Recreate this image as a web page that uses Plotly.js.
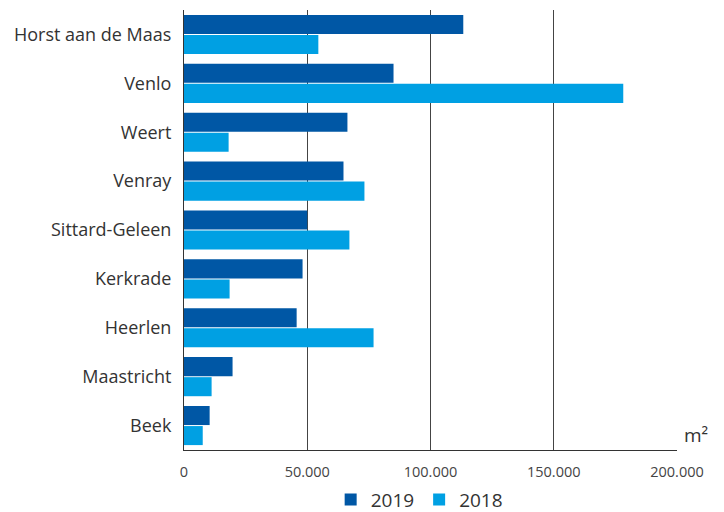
<!DOCTYPE html>
<html>
<head>
<meta charset="utf-8">
<script src="https://cdn.plot.ly/plotly-3.0.1.min.js"></script>
<style>html,body{margin:0;padding:0;background:#fff;}#chart{width:724px;height:512px;}</style>
</head>
<body>
<div id="chart"></div>
<script>
const categories = ["Horst aan de Maas","Venlo","Weert","Venray","Sittard-Geleen","Kerkrade","Heerlen","Maastricht","Beek"];
const values2019 = [113300, 85000, 66300, 64700, 50000, 48100, 45700, 19700, 10400];
const values2018 = [54500, 178200, 18100, 73200, 67100, 18500, 76900, 11200, 7600];
const tickVals = [0, 50000, 100000, 150000, 200000];
const tickLabels = ["0", "50.000", "100.000", "150.000", "200.000"];

const font = "'Open Sans', sans-serif";
const traces = [
  {type:'bar', orientation:'h', name:'2019', y:categories, x:values2019, marker:{color:'#0057A5'}, hoverinfo:'x'},
  {type:'bar', orientation:'h', name:'2018', y:categories, x:values2018, marker:{color:'#00A0E3'}, hoverinfo:'x'}
];
const layout = {
  width:724, height:512,
  margin:{l:184, r:47, t:10, b:62},
  paper_bgcolor:'#fff', plot_bgcolor:'#fff',
  barmode:'group', bargap:0.18, bargroupgap:0.05,
  separators:',.',
  font:{family:font, color:'#333'},
  xaxis:{range:[0,200000], tickvals:tickVals, ticktext:tickLabels, showgrid:true, gridcolor:'#444', gridwidth:1,
         zeroline:false, showline:true, linecolor:'#333', linewidth:1, ticks:'', ticklabelstandoff:9,
         tickfont:{size:14.5, color:'#444', family:font}, fixedrange:true},
  yaxis:{autorange:'reversed', type:'category', showline:true, linecolor:'#333', linewidth:1, ticks:'',
         ticklabelstandoff:8, tickfont:{size:18, color:'#333', family:font}, showgrid:false, fixedrange:true},
  legend:{orientation:'h', x:0.477, xanchor:'center', yref:'container', y:0.024, yanchor:'middle',
          font:{size:19, color:'#333', family:font}, itemwidth:30, traceorder:'normal'},
  annotations:[{text:'m²', xref:'paper', yref:'paper', x:1.01, y:0.0, xanchor:'left', yanchor:'bottom',
                showarrow:false, font:{size:19, color:'#333', family:font}}]
};
Plotly.newPlot('chart', traces, layout, {displayModeBar:false, staticPlot:true});
</script>
</body>
</html>
